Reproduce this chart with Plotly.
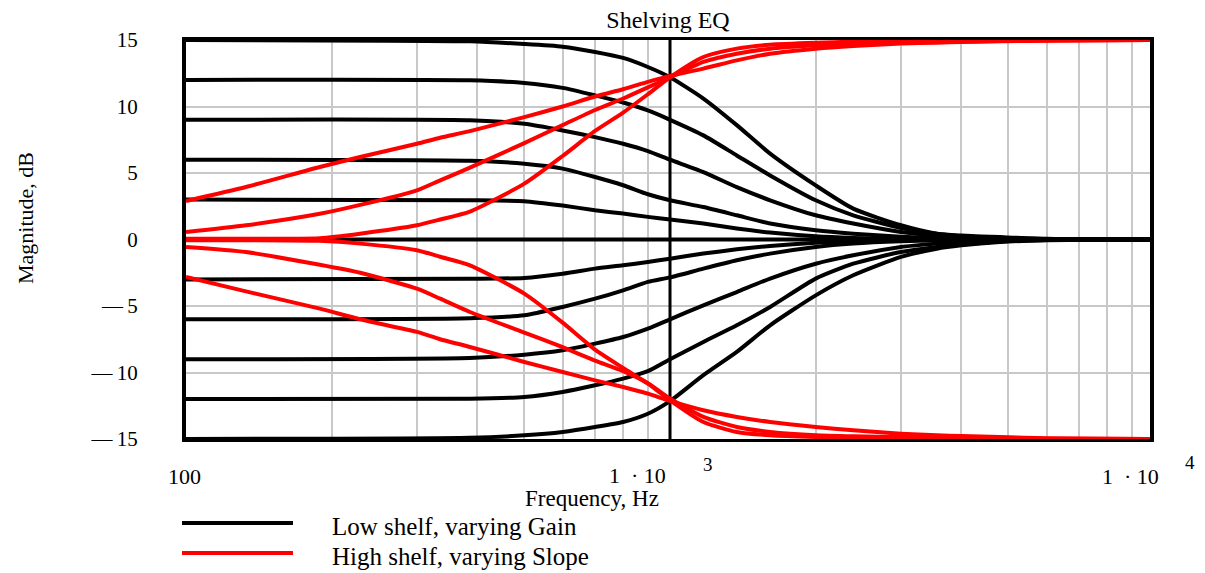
import plotly.graph_objects as go

# ---------------- data ----------------
FREQ_LOW = [100, 386, 500, 600, 700, 800, 900, 1000, 1172, 1374, 1610, 2000,
            2391, 3000, 3557, 4000, 4806, 6000, 9800]

low_gain_15 = [15.0, 14.9, 14.7, 14.5, 14.1, 13.65, 12.97, 12.2, 10.6, 8.6, 6.46, 4.07,
               2.32, 1.07, 0.44, 0.3, 0.18, 0.05, 0.0]
low_gain_12 = [12.0, 11.97, 11.77, 11.4, 10.84, 10.3, 9.7, 9.0, 7.83, 6.32, 4.82, 2.95,
               1.82, 0.87, 0.44, 0.24, 0.12, 0.03, 0.0]
low_gain_9 = [9.0, 8.96, 8.7, 8.2, 7.7, 7.2, 6.65, 6.0, 5.07, 3.94, 2.95, 1.82,
              1.2, 0.57, 0.3, 0.18, 0.08, 0.02, 0.0]
low_gain_6 = [6.0, 5.92, 5.7, 5.33, 4.7, 4.08, 3.4, 2.95, 2.44, 1.82, 1.2, 0.7,
              0.44, 0.2, 0.1, 0.06, 0.03, 0.0, 0.0]
low_gain_3 = [3.0, 2.95, 2.88, 2.55, 2.2, 1.95, 1.7, 1.5, 1.2, 0.82, 0.52, 0.24,
              0.12, 0.05, 0.02, 0.0, 0.0, 0.0, 0.0]
low_gain_0 = [0.0] * 19
low_gain_m3 = [-3.0, -2.95, -2.89, -2.57, -2.19, -1.94, -1.69, -1.44, -1.06, -0.74, -0.49, -0.24,
               -0.12, -0.05, -0.02, 0.0, 0.0, 0.0, 0.0]
low_gain_m6 = [-6.0, -5.92, -5.7, -5.07, -4.45, -3.82, -3.19, -2.85, -2.19, -1.56, -1.06, -0.56,
               -0.31, -0.14, -0.07, -0.04, -0.02, 0.0, 0.0]
low_gain_m9 = [-9.0, -8.91, -8.66, -8.33, -7.83, -7.33, -6.7, -6.0, -4.95, -3.95, -2.94, -1.82,
               -1.19, -0.56, -0.31, -0.18, -0.08, -0.02, 0.0]
low_gain_m12 = [-12.0, -11.97, -11.84, -11.46, -10.96, -10.46, -9.9, -9.0, -7.7, -6.45, -5.07, -2.94,
                -1.82, -0.94, -0.56, -0.39, -0.15, -0.04, 0.0]
low_gain_m15 = [-15.0, -14.9, -14.72, -14.47, -14.1, -13.72, -13.1, -12.15, -10.2, -8.45, -6.45, -4.2,
                -2.69, -1.31, -0.69, -0.44, -0.19, -0.05, 0.0]

FREQ_HIGH = [100, 133, 189, 229, 300, 335, 386, 500, 600, 700, 800, 900, 1000,
             1172, 1374, 1610, 2000, 2391, 3000, 3557, 4000, 4806, 6000, 9800]

high_pos_shallow = [2.9, 3.95, 5.45, 6.2, 7.2, 7.65, 8.15, 9.2, 10.0, 10.75, 11.3, 11.85, 12.3,
                    12.85, 13.47, 13.97, 14.35, 14.55, 14.73, 14.8, 14.85, 14.9, 14.95, 15.0]
high_pos_medium = [0.56, 1.07, 1.93, 2.6, 3.7, 4.45, 5.4, 7.25, 8.6, 9.74, 10.6, 11.44, 12.2,
                   13.35, 13.97, 14.35, 14.6, 14.73, 14.8, 14.87, 14.9, 14.93, 14.97, 15.0]
high_pos_steep = [0.05, 0.05, 0.1, 0.44, 1.07, 1.5, 2.1, 4.2, 6.28, 8.16, 9.54, 10.92, 12.2,
                  13.72, 14.35, 14.65, 14.8, 14.87, 14.92, 14.95, 14.97, 14.98, 15.0, 15.0]
high_neg_shallow = [-2.82, -3.9, -5.2, -6.0, -6.95, -7.5, -8.08, -9.21, -9.96, -10.59, -11.09, -11.59, -12.14,
                    -12.84, -13.34, -13.72, -14.1, -14.35, -14.6, -14.72, -14.78, -14.85, -14.95, -15.0]
high_neg_medium = [-0.56, -0.94, -1.9, -2.5, -3.7, -4.45, -5.45, -7.0, -8.1, -9.1, -9.9, -10.8, -11.96,
                   -13.34, -14.1, -14.47, -14.72, -14.8, -14.85, -14.9, -14.92, -14.95, -14.98, -15.0]
high_neg_steep = [-0.05, -0.05, -0.1, -0.31, -0.81, -1.3, -1.94, -4.07, -6.25, -8.28, -9.66, -10.84, -12.09,
                  -13.72, -14.47, -14.72, -14.85, -14.9, -14.93, -14.95, -14.97, -14.98, -15.0, -15.0]

low_shelf_series = [low_gain_15, low_gain_12, low_gain_9, low_gain_6, low_gain_3, low_gain_0,
                    low_gain_m3, low_gain_m6, low_gain_m9, low_gain_m12, low_gain_m15]
high_shelf_series = [high_pos_shallow, high_pos_medium, high_pos_steep,
                     high_neg_shallow, high_neg_medium, high_neg_steep]

Y_TICKS = [-15, -10, -5, 0, 5, 10, 15]
Y_TICK_TEXT = ["\u2014\u200915", "\u2014\u200910", "\u2014\u20095", "0", "5", "10", "15"]
CROSS_FREQ = 1000
LEGEND_NAMES = ["Low shelf, varying Gain", "High shelf, varying Slope"]

# ---------------- figure ----------------
OFF = 8                     # page body margin of the html page
W, H = 1205 - OFF, 573 - OFF
ML = 186 - OFF
MT = 40 - OFF
MR = W - (1150 - OFF)
MB = H - (439 - OFF)
PW, PH = W - ML - MR, H - MT - MB
X_RANGE = [2.0, 3.9917]
FONT = "Liberation Serif"


def px(x):
    """screen x (reference pixels) -> paper fraction"""
    return (x - OFF - ML) / PW


def py(y):
    """screen y (reference pixels) -> paper fraction"""
    return (H - MB - (y - OFF)) / PH


fig = go.Figure()

# vertical axis-crossing line at 1 kHz
fig.add_trace(go.Scatter(x=[CROSS_FREQ, CROSS_FREQ], y=[-15, 15], mode="lines",
                         line=dict(color="black", width=3), showlegend=False, hoverinfo="skip"))

for s in low_shelf_series:
    fig.add_trace(go.Scatter(x=FREQ_LOW, y=s, mode="lines", name=LEGEND_NAMES[0],
                             line=dict(color="black", width=4, shape="spline", smoothing=0.6),
                             showlegend=False))
for s in high_shelf_series:
    fig.add_trace(go.Scatter(x=FREQ_HIGH, y=s, mode="lines", name=LEGEND_NAMES[1],
                             line=dict(color="#ff0000", width=4, shape="spline", smoothing=0.6),
                             showlegend=False))

grid_vals = [m * 10 ** e for e in (2, 3) for m in range(1, 10)]

fig.update_xaxes(type="log", range=X_RANGE, tickvals=grid_vals, showticklabels=False,
                 ticks="", showgrid=True, gridcolor="#c8c8c8", gridwidth=1.5,
                 showline=True, linecolor="black", linewidth=3, mirror=True, zeroline=False)
fig.update_yaxes(range=[-15, 15], tickvals=Y_TICKS, ticktext=Y_TICK_TEXT, ticks="",
                 tickfont=dict(family=FONT, size=21, color="black"), ticklabelstandoff=40,
                 showgrid=True, gridcolor="#c8c8c8", gridwidth=1.5,
                 showline=True, linecolor="black", linewidth=4, mirror=True, zeroline=False)

ann = []
# x tick labels (Mathcad style)
ann.append(dict(text="100", x=px(184), y=py(476), xanchor="center", yanchor="middle"))
ann.append(dict(text="1 \u00a0\u00b7 10", x=px(667), y=py(475), xanchor="right", yanchor="middle",
                height=20))
ann.append(dict(text="3", x=px(708), y=py(464), xanchor="center", yanchor="middle", size=19))
ann.append(dict(text="1 \u00a0\u00b7 10", x=px(1160), y=py(476), xanchor="right", yanchor="middle"))
ann.append(dict(text="4", x=px(1190), y=py(462), xanchor="center", yanchor="middle", size=19))
# axis titles
ann.append(dict(text="Frequency, Hz", x=px(592), y=py(498), xanchor="center", yanchor="middle", size=23,
                height=27))
ann.append(dict(text="Magnitude, dB", x=px(25), y=py(218), xanchor="center", yanchor="middle",
                textangle=-90, size=22))
# legend text
ann.append(dict(text=LEGEND_NAMES[0], x=px(331), y=py(526), xanchor="left", yanchor="middle", size=25))
ann.append(dict(text=LEGEND_NAMES[1], x=px(331), y=py(556), xanchor="left", yanchor="middle", size=25))

annotations = []
for a in ann:
    size = a.pop("size", 22)
    annotations.append(dict(xref="paper", yref="paper", showarrow=False, borderpad=0,
                            font=dict(family=FONT, size=size, color="black"), **a))

shapes = [
    dict(type="line", xref="paper", yref="paper", x0=px(182), x1=px(293), y0=py(523), y1=py(523),
         line=dict(color="black", width=4)),
    dict(type="line", xref="paper", yref="paper", x0=px(182), x1=px(293), y0=py(553), y1=py(553),
         line=dict(color="#ff0000", width=4)),
]

fig.update_layout(
    width=W, height=H,
    margin=dict(l=ML, r=MR, t=MT, b=MB),
    paper_bgcolor="white", plot_bgcolor="white",
    title=dict(text="Shelving EQ", x=px(668), xanchor="center", y=1 - (20 - OFF) / H,
               yanchor="middle", xref="paper", font=dict(family=FONT, size=24, color="black")),
    annotations=annotations, shapes=shapes, showlegend=False,
)

fig.write_html("out.html")
